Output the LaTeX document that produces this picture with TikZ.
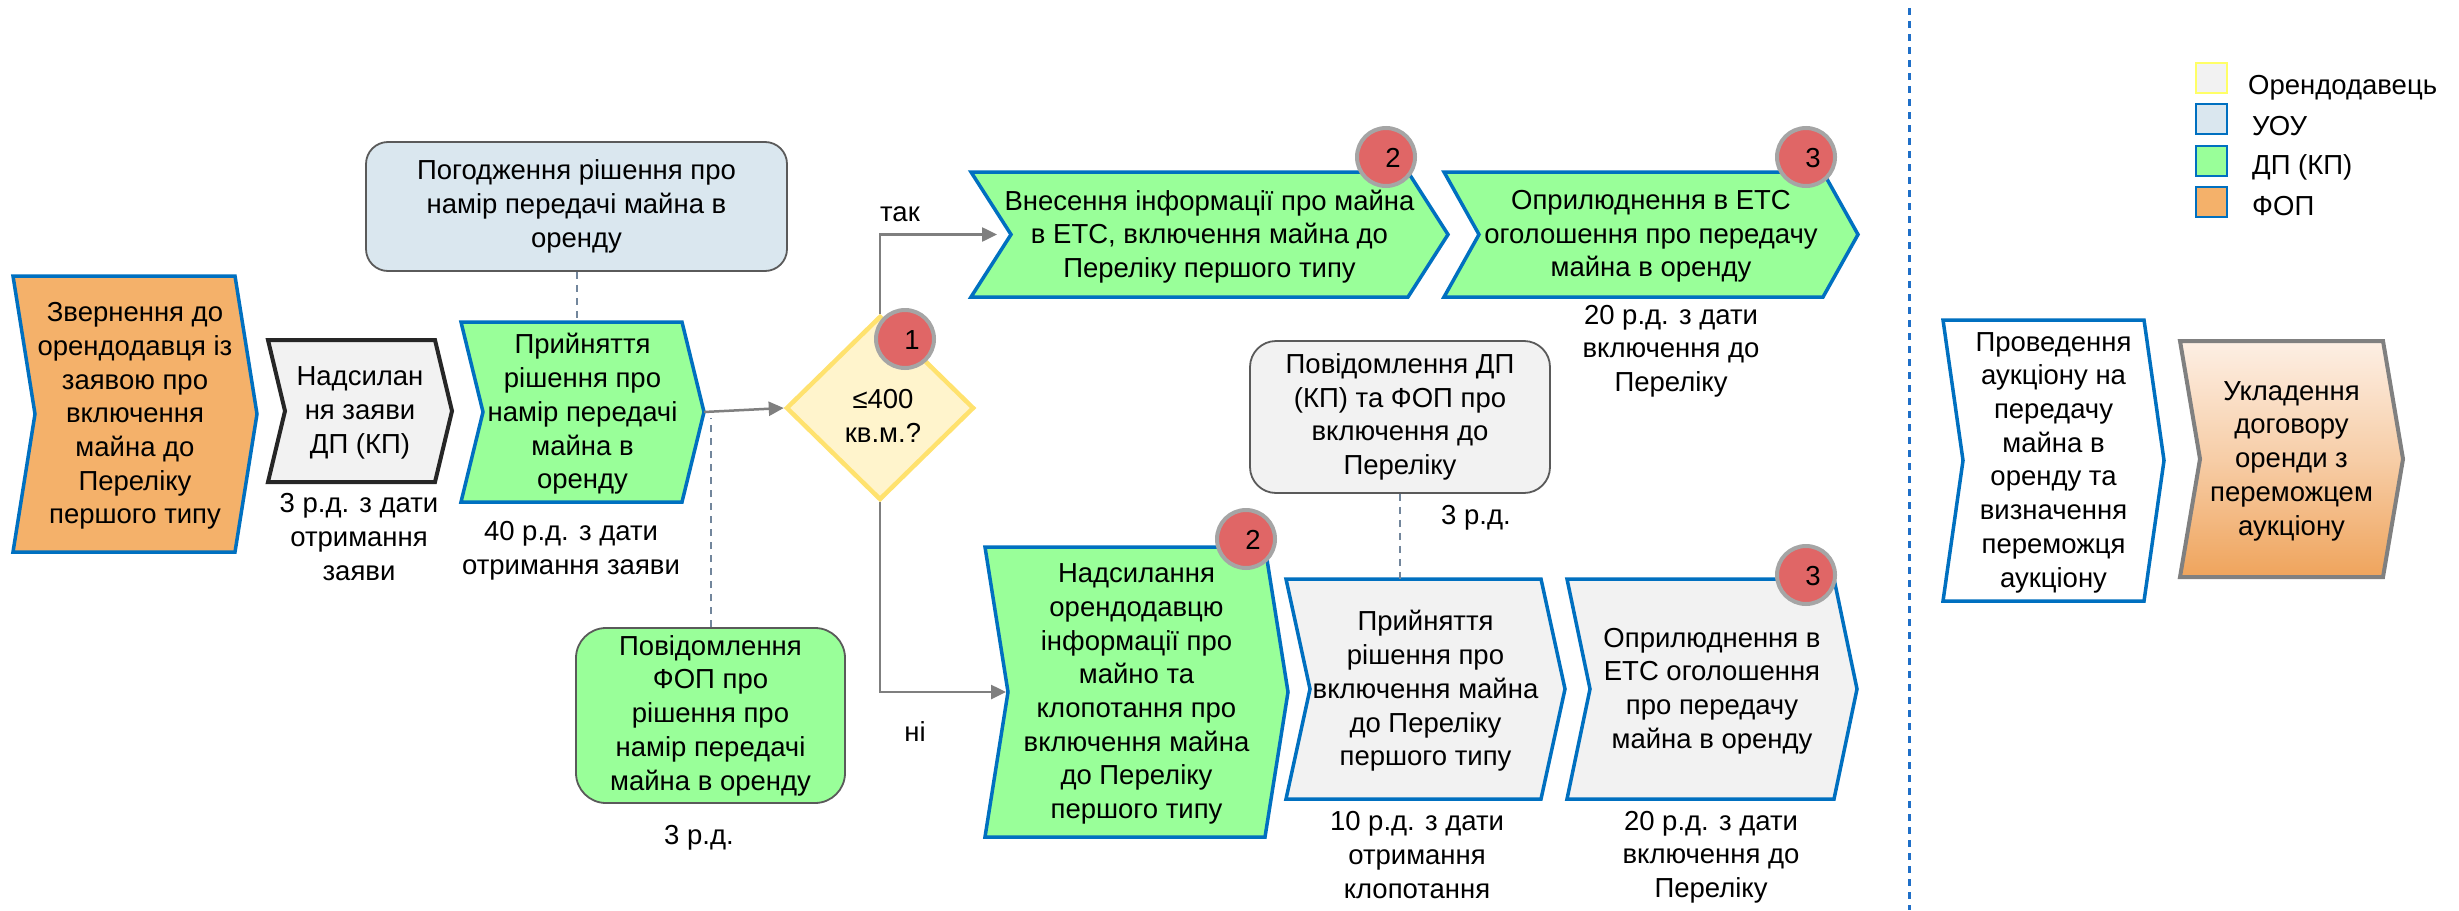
\documentclass[tikz,border=0pt]{standalone}
\usepackage{fontspec}
\setmainfont{Liberation Sans}
\usetikzlibrary{shapes.geometric,arrows.meta}
\definecolor{orangeF}{HTML}{F4B16A}
\definecolor{greenF}{HTML}{99FF99}
\definecolor{grayF}{HTML}{F2F2F2}
\definecolor{uoF}{HTML}{DAE7EF}
\definecolor{blueB}{HTML}{0070C0}
\definecolor{decF}{HTML}{FFF4CC}
\definecolor{decB}{HTML}{FFE26E}
\definecolor{circF}{HTML}{E06666}
\definecolor{circB}{HTML}{A5A5A5}
\definecolor{arrowC}{HTML}{7F7F7F}
\definecolor{dashC}{HTML}{72869C}
\definecolor{divC}{HTML}{1F6FC8}
\definecolor{darkB}{HTML}{262626}
\definecolor{rbB}{HTML}{5A5A5A}
\definecolor{gradTop}{HTML}{FDEFE4}
\definecolor{gradBot}{HTML}{EFA45C}
\definecolor{grayB}{HTML}{808080}
\definecolor{legY}{HTML}{FFFF66}
\tikzset{
  txt/.style={align=center, font=\fontsize{27.5}{33.7}\selectfont, inner sep=0pt},
  bluechev/.style={draw=blueB, line width=3.5pt},
  greenchev/.style={bluechev, fill=greenF},
  graychev/.style={bluechev, fill=grayF},
  rbox/.style={txt, draw=rbB, line width=1.8pt, rounded corners=22pt},
  numc/.style={circle, fill=circF, draw=circB, line width=4pt, minimum size=58pt, inner sep=0pt},
  flow/.style={draw=arrowC, line width=2.5pt, -{Triangle[length=15pt,width=14pt]}},
  link/.style={draw=dashC, line width=2pt, dash pattern=on 7pt off 6pt},
  legbox/.style={line width=2pt, minimum width=31pt, minimum height=30pt, inner sep=0pt},
}
% #1 style, #2 name, #3 xl, #4 xr, #5 ytop, #6 ybot, #7 depth, #8 text
\newcommand\chev[8]{%
  \path[#1] (#3,#5) -- (#4,#5) -- ({#4+#7},{(#5+#6)/2}) -- (#4,#6) -- (#3,#6)
     -- ({#3+#7},{(#5+#6)/2}) -- cycle;
  \coordinate (#2-in) at ({#3+#7},{(#5+#6)/2});
  \coordinate (#2-out) at ({#4+#7},{(#5+#6)/2});
  \coordinate (#2-t) at ({(#3+#4)/2},#5);
  \node[txt] (#2) at ({(#3+#4+#7)/2},{(#5+#6)/2+2}) {#8};
}
\begin{document}
\begin{tikzpicture}[x=1pt,y=-1pt]
\useasboundingbox[fill=white] (0,0) rectangle (2459,910);

% divider
\draw[divC, line width=3pt, dash pattern=on 7pt off 6pt] (1909,8) coordinate (dtop) -- (1909,910) coordinate (dbot);

% left chain
\chev{draw=blueB, line width=3.5pt, fill=orangeF}{zv}{13}{235}{276}{552}{22}{Звернення до\\орендодавця із\\заявою про\\включення\\майна до\\Переліку\\першого типу}
\chev{draw=darkB, line width=4pt, fill=grayF}{nad}{268}{435}{340}{482}{17}{Надсилан\\ня заяви\\ДП (КП)}
\chev{greenchev}{prij}{461}{682}{322}{502}{22}{Прийняття\\рішення про\\намір передачі\\майна в\\оренду}

\node[txt] (l1) at (359,537) {3 р.д. з дати\\отримання\\заяви};
\node[txt] (l2) at (571,551) {40 р.д. з дати\\отримання заяви};

\node[rbox, fill=uoF, minimum width=421pt, minimum height=129pt] (pog) at (576.5,206.5) {Погодження рішення про\\намір передачі майна в\\оренду};
\node[rbox, fill=greenF, rounded corners=30pt, minimum width=269pt, minimum height=175pt] (povfop) at (710.5,715.5) {Повідомлення\\ФОП про\\рішення про\\намір передачі\\майна в оренду};
\node[txt] (l3) at (699,838) {3 р.д.};

\draw[link] (pog.south) -- (pog.south |- prij-t);
\draw[link] (povfop.north) -- ([yshift=-6pt]povfop.north |- prij-out);

% decision
\node[diamond, draw=decB, fill=decF, line width=4.5pt, minimum width=188pt, minimum height=184pt, inner sep=0pt] (dec) at (880,408) {};
\node[txt] (dect) at (883,416) {≤400\\кв.м.?};
\draw[flow] (prij-out) -- (dec.west);

% upper branch
\chev{greenchev}{up1}{971}{1408}{172}{297}{40}{Внесення інформації про майна\\в ЕТС, включення майна до\\Переліку першого типу}
\chev{greenchev}{up2}{1444}{1823}{172}{297}{35}{Оприлюднення в ЕТС\\оголошення про передачу\\майна в оренду}
\node[txt] (l4) at (1671,351) {20 р.д. з дати\\включення до\\Переліку};
\draw[flow, shorten >=14pt] (dec.north) |- (up1-in);
\node[txt] (tak) at (900,214) {так};

% lower branch
\chev{greenchev}{low}{985}{1265}{547}{837}{23}{Надсилання\\орендодавцю\\інформації про\\майно та\\клопотання про\\включення майна\\до Переліку\\першого типу}
\chev{graychev}{g2}{1286}{1541}{579}{799}{24}{Прийняття\\рішення про\\включення майна\\до Переліку\\першого типу}
\chev{graychev}{g3}{1567}{1834}{579}{799}{23}{Оприлюднення в\\ЕТС оголошення\\про передачу\\майна в оренду}
\draw[flow, shorten >=2pt] (dec.south) |- (low-in);
\node[txt] (ni) at (915,732) {ні};

\node[rbox, fill=grayF, rounded corners=26pt, minimum width=300pt, minimum height=152pt] (povdp) at (1400,417) {Повідомлення ДП\\(КП) та ФОП про\\включення до\\Переліку};
\draw[link] (povdp.south) -- (povdp.south |- g2-t);
\node[txt] (l5) at (1476,518) {3 р.д.};
\node[txt] (l6) at (1417,855) {10 р.д. з дати\\отримання\\клопотання};
\node[txt] (l7) at (1711,857) {20 р.д. з дати\\включення до\\Переліку};

% number circles
\node[numc] (c1) at (905,339) {};
\node[txt] (c1t) at (912,340) {1};
\node[numc] (c2a) at (1386,157) {};
\node[txt] (c2at) at (1393,158) {2};
\node[numc] (c3a) at (1806,157) {};
\node[txt] (c3at) at (1813,158) {3};
\node[numc] (c2b) at (1246,539) {};
\node[txt] (c2bt) at (1253,540) {2};
\node[numc] (c3b) at (1806,575) {};
\node[txt] (c3bt) at (1813,576) {3};

% right part
\chev{draw=blueB, line width=3.5pt, fill=white}{prov}{1943}{2144}{320}{601}{20}{Проведення\\аукціону на\\передачу\\майна в\\оренду та\\визначення\\переможця\\аукціону}
\shade[top color=gradTop, bottom color=gradBot, middle color=gradTop!55!gradBot] (2180,341) -- (2383,341) -- (2403,459) -- (2383,577) -- (2180,577) -- (2200,459) -- cycle;
\chev{draw=grayB, line width=4pt}{ukl}{2180}{2383}{341}{577}{20}{Укладення\\договору\\оренди з\\переможцем\\аукціону}

% legend
\node[legbox, draw=legY, fill=grayF] (lg1) at (2211.5,78) {};
\node[legbox, draw=blueB, fill=uoF] (lg2) at (2211.5,118.5) {};
\node[legbox, draw=blueB, fill=greenF] (lg3) at (2211.5,161) {};
\node[legbox, draw=blueB, fill=orangeF] (lg4) at (2211.5,202) {};
\node[txt, anchor=base west] (lt1) at (2248,94) {Орендодавець};
\node[txt, anchor=base west] (lt2) at (2252,135) {УОУ};
\node[txt, anchor=base west] (lt3) at (2252,174) {ДП (КП)};
\node[txt, anchor=base west] (lt4) at (2252,215) {ФОП};
\end{tikzpicture}
\end{document}
